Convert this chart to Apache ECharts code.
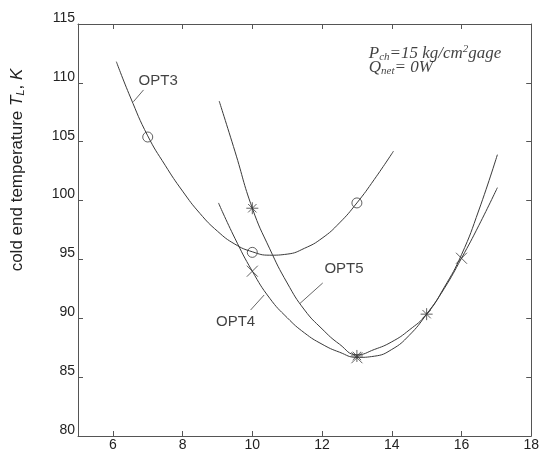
<!DOCTYPE html>
<html>
<head>
<meta charset="utf-8">
<script src="https://cdn.jsdelivr.net/npm/echarts@6/dist/echarts.min.js"></script>
<style>
  html, body { margin: 0; padding: 0; background: #fff; }
  #main { width: 542px; height: 454px; }
</style>
</head>
<body>
<div id="main"></div>
<script>
// curves
const opt3X = [6.1, 6.5, 7, 7.5, 8, 8.5, 9, 9.5, 10, 10.5, 11, 11.5, 12, 12.5, 13, 13.5, 14.05]
const opt3Y = [111.8, 108.8, 105.5, 103.0, 100.8, 98.9, 97.4, 96.3, 95.65, 95.36, 95.45, 95.95, 96.8, 98.1, 99.8, 101.8, 104.2]
const opt4X = [9.03, 9.5, 10, 10.5, 11, 11.5, 12, 12.5, 13, 13.5, 14, 14.5, 15, 15.5, 16, 16.5, 17.03]
const opt4Y = [99.8, 96.8, 94.0, 91.7, 90.05, 88.75, 87.8, 87.12, 86.68, 86.78, 87.35, 88.55, 90.35, 92.5, 95.1, 97.9, 101.1]
const opt5X = [9.05, 9.5, 10, 10.5, 11, 11.5, 12, 12.5, 13, 13.5, 14, 14.5, 15, 15.5, 16, 16.5, 17.03]
const opt5Y = [108.45, 104.2, 99.35, 95.9, 93.0, 90.7, 89.1, 87.8, 86.9, 87.35, 88.0, 89.0, 90.35, 92.6, 95.4, 99.2, 103.9]

// marker points
const opt3MarkX = [7, 10, 13]
const opt3MarkY = [105.4, 95.6, 99.8]
const opt4MarkX = [10, 13, 16]
const opt4MarkY = [94.0, 86.65, 95.1]
const opt5MarkX = [10, 13, 15]
const opt5MarkY = [99.35, 86.8, 90.35]

// axes
const xTicks = [6, 8, 10, 12, 14, 16, 18]
const yTicks = [80, 85, 90, 95, 100, 105, 110, 115]

// annotation placement (data coords)
const curveNames = ['OPT3', 'OPT4', 'OPT5']
const nameAt = [[7.3, 110.2], [9.52, 89.66], [12.63, 94.24]]
const leaders = [
  [[6.59, 108.4], [6.88, 109.4]],
  [[9.95, 90.7], [10.34, 91.98]],
  [[11.37, 91.27], [12.02, 93.0]]
]
const noteLines = [
  '{i|P}{sb|ch}{i|=15 kg/cm}{sp|2}{i|gage}',
  '{i|Q}{sb|net}{i|= 0W}'
]
const noteAt = [[13.34, 112.45], [13.34, 111.32]]

const zip = (xs, ys) => xs.map((x, i) => [x, ys[i]])

const ink = '#3a3a3a'
const sans = 'Liberation Sans, Arial, sans-serif'
const serif = 'Liberation Serif, Times New Roman, serif'

const chart = echarts.init(document.getElementById('main'))

const curve = (name, xs, ys) => ({
  name,
  type: 'line',
  data: zip(xs, ys),
  smooth: 0.5,
  showSymbol: false,
  silent: true,
  lineStyle: { color: ink, width: 1 },
  z: 2
})

const marks = (xs, ys, symbol, size) => ({
  type: 'scatter',
  data: zip(xs, ys),
  symbol,
  symbolSize: size,
  silent: true,
  itemStyle: { color: 'rgba(0,0,0,0)', borderColor: ink, borderWidth: 1 },
  z: 3
})

const axisLine = { lineStyle: { color: '#555', width: 1 } }
const noteRich = {
  i: { fontFamily: serif, fontStyle: 'italic', fontSize: 17, color: '#111' },
  sb: { fontFamily: serif, fontStyle: 'italic', fontSize: 11, color: '#111', padding: [7, 0, 0, 0] },
  sp: { fontFamily: serif, fontStyle: 'italic', fontSize: 11, color: '#111', padding: [0, 0, 10, 0] }
}

const option = {
  animation: false,
  backgroundColor: '#fff',
  grid: { left: 78, right: 10, top: 24, bottom: 18 },
  xAxis: [
    {
      type: 'value', min: 5, max: 18, position: 'bottom',
      axisLine,
      axisTick: { inside: true, length: 5, customValues: xTicks, lineStyle: { color: '#555' } },
      axisLabel: { customValues: xTicks, color: '#222', fontSize: 14, fontFamily: sans, margin: 2 },
      splitLine: { show: false }
    },
    {
      type: 'value', min: 5, max: 18, position: 'top',
      axisLine,
      axisTick: { inside: true, length: 5, customValues: xTicks.slice(0, -1), lineStyle: { color: '#555' } },
      axisLabel: { show: false },
      splitLine: { show: false }
    }
  ],
  yAxis: [
    {
      type: 'value', min: 80, max: 115, interval: 5, position: 'left',
      axisLine,
      axisTick: { inside: true, length: 5, customValues: yTicks, lineStyle: { color: '#555' } },
      axisLabel: { customValues: yTicks, color: '#222', fontSize: 14, fontFamily: sans, margin: 3, verticalAlign: 'bottom', lineHeight: 12 },
      splitLine: { show: false }
    },
    {
      type: 'value', min: 80, max: 115, interval: 5, position: 'right',
      axisLine,
      axisTick: { inside: true, length: 5, customValues: yTicks.slice(1, -1), lineStyle: { color: '#555' } },
      axisLabel: { show: false },
      splitLine: { show: false }
    }
  ],
  graphic: [{
    type: 'text',
    x: 17,
    y: 170,
    rotation: Math.PI / 2,
    style: {
      text: '{a|cold end temperature }{i|T}{s|L}{a|, }{i|K}',
      align: 'center',
      verticalAlign: 'middle',
      rich: {
        a: { fontFamily: sans, fontSize: 17, fill: '#222' },
        i: { fontFamily: sans, fontSize: 17, fontStyle: 'italic', fill: '#222' },
        s: { fontFamily: sans, fontSize: 11, fontStyle: 'italic', fill: '#222', padding: [7, 0, 0, 0] }
      }
    }
  }],
  series: [
    curve('OPT3', opt3X, opt3Y),
    curve('OPT4', opt4X, opt4Y),
    curve('OPT5', opt5X, opt5Y),
    marks(opt3MarkX, opt3MarkY, 'circle', 10),
    marks(opt4MarkX, opt4MarkY, 'path://M0,0L10,10M10,0L0,10', 11),
    marks(opt5MarkX, opt5MarkY, 'path://M5,0L5,10M0,5L10,5M1.5,1.5L8.5,8.5M8.5,1.5L1.5,8.5', 12),
    ...leaders.map(seg => ({
      type: 'line',
      data: seg,
      showSymbol: false,
      silent: true,
      lineStyle: { color: '#666', width: 1 }
    })),
    {
      type: 'scatter',
      data: nameAt.map((p, i) => ({ value: p, name: curveNames[i] })),
      symbolSize: 0,
      silent: true,
      label: {
        show: true, position: 'inside', formatter: '{b}',
        color: '#111', fontSize: 15, fontFamily: sans
      }
    },
    {
      type: 'scatter',
      data: noteAt.map((p, i) => ({ value: p, name: noteLines[i] })),
      symbolSize: 0,
      silent: true,
      label: {
        show: true, position: 'right', distance: 0,
        formatter: '{b}',
        rich: noteRich
      }
    }
  ]
}

chart.setOption(option)
</script>
</body>
</html>
